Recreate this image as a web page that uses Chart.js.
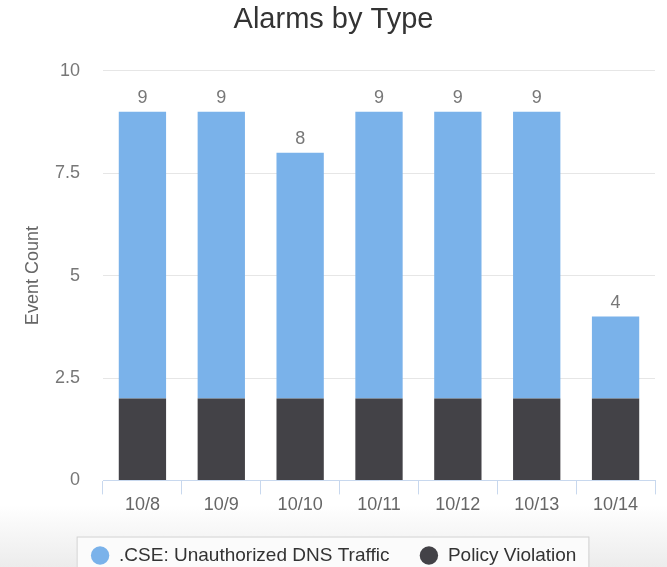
<!DOCTYPE html>
<html>
<head>
<meta charset="utf-8">
<script src="https://cdn.jsdelivr.net/npm/chart.js@4/dist/chart.umd.min.js"></script>
<style>
  html, body { margin: 0; padding: 0; width: 667px; height: 567px; overflow: hidden; }
  body { background: linear-gradient(to bottom, #ffffff 0px, #ffffff 505px, #ececec 567px); }
  canvas { display: block; }
</style>
</head>
<body>
<canvas id="myChart" width="667" height="575"></canvas>
<script>
// dados do grafico
const days = ['10/8', '10/9', '10/10', '10/11', '10/12', '10/13', '10/14'];
const dnsTraffic = [7, 7, 6, 7, 7, 7, 2];
const policyViolation = [2, 2, 2, 2, 2, 2, 2];
const yTicks = [0, 2.5, 5, 7.5, 10];

const FONT = "'Liberation Sans', Arial, sans-serif";

// totais em cima das barras
const totalLabels = {
    id: 'totalLabels',
    afterDatasetsDraw(chart) {
        const ctx = chart.ctx;
        const top = chart.getDatasetMeta(chart.data.datasets.length - 1);
        ctx.save();
        ctx.font = '18px ' + FONT;
        ctx.fillStyle = '#777';
        ctx.textAlign = 'center';
        ctx.textBaseline = 'bottom';
        top.data.forEach((bar, i) => {
            let total = 0;
            chart.data.datasets.forEach((ds) => { total += ds.data[i]; });
            ctx.fillText(total, bar.x, bar.y - 5);
        });
        ctx.restore();
    }
};

// caixa em volta da legenda
const legendBox = {
    id: 'legendBox',
    beforeDraw(chart) {
        const boxes = chart.legend.legendHitBoxes;
        if (!boxes || !boxes.length) return;
        const left = boxes[0].left - 14;
        const last = boxes[boxes.length - 1];
        const right = last.left + last.width + 12;
        const cy = boxes[0].top + boxes[0].height / 2;
        const ctx = chart.ctx;
        ctx.save();
        ctx.fillStyle = '#fbfbfb';
        ctx.strokeStyle = '#d2d2d2';
        ctx.lineWidth = 1;
        ctx.fillRect(left, cy - 19, right - left, 60);
        ctx.strokeRect(left + 0.5, cy - 18.5, right - left, 60);
        ctx.restore();
    }
};

const ctx = document.getElementById('myChart');

new Chart(ctx, {
    type: 'bar',
    data: {
        labels: days,
        datasets: [{
            label: 'Policy Violation',
            data: policyViolation,
            backgroundColor: '#434247',
            borderWidth: 0
        }, {
            label: '.CSE: Unauthorized DNS Traffic',
            data: dnsTraffic,
            backgroundColor: '#7ab2ea',
            borderWidth: 0
        }]
    },
    options: {
        responsive: false,
        animation: false,
        layout: { padding: { left: 0, right: 0, top: 3, bottom: 0 } },
        datasets: { bar: { categoryPercentage: 1, barPercentage: 0.6 } },
        plugins: {
            title: {
                display: true,
                text: 'Alarms by Type',
                color: '#333',
                font: { family: FONT, size: 29, weight: 'normal' },
                padding: { top: 0, bottom: 33 }
            },
            legend: {
                position: 'bottom',
                reverse: true,
                labels: {
                    usePointStyle: true,
                    pointStyle: 'circle',
                    boxWidth: 19,
                    boxHeight: 13,
                    padding: 30,
                    color: '#333',
                    font: { family: FONT, size: 19 }
                }
            },
            tooltip: { enabled: false }
        },
        scales: {
            x: {
                stacked: true,
                grid: { offset: true, drawOnChartArea: false, color: '#c8d8ee', tickLength: 14 },
                border: { color: '#c8d8ee' },
                ticks: { color: '#666', padding: 0, font: { family: FONT, size: 18 } }
            },
            y: {
                stacked: true,
                min: 0,
                max: 10,
                afterBuildTicks(scale) { scale.ticks = yTicks.map((v) => ({ value: v })); },
                afterFit(scale) { scale.width = 103; },
                grid: { color: '#e6e6e6', drawTicks: false },
                border: { display: false },
                ticks: { color: '#777', padding: 23, font: { family: FONT, size: 18 } },
                title: {
                    display: true,
                    text: 'Event Count',
                    color: '#666',
                    font: { family: FONT, size: 18 },
                    padding: { top: 22, bottom: 10 }
                }
            },
            // eixo vazio so pra dar margem na direita
            yRight: {
                position: 'right',
                grid: { display: false },
                border: { display: false },
                ticks: { display: false },
                afterFit(scale) { scale.width = 12; }
            }
        }
    },
    plugins: [totalLabels, legendBox]
});
</script>
</body>
</html>
